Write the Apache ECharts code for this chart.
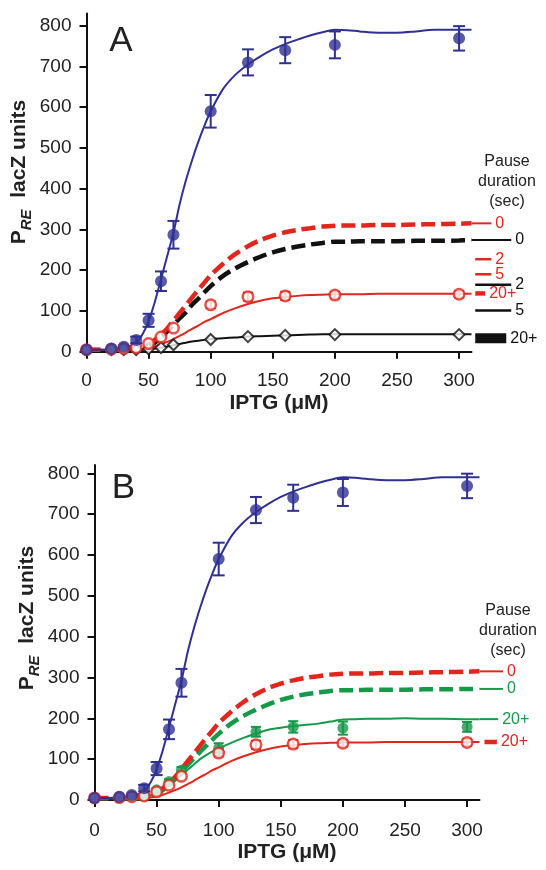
<!DOCTYPE html>
<html><head><meta charset="utf-8">
<script src="https://cdn.jsdelivr.net/npm/echarts@6/dist/echarts.min.js"></script>
<style>html,body{margin:0;padding:0;background:#fff}#c{width:546px;height:870px}</style>
</head><body><div id="c"></div>
<script>
// ---- tick labels ----
const xTicks = [0, 50, 100, 150, 200, 250, 300];
const yTicks = [0, 100, 200, 300, 400, 500, 600, 700, 800];

// ---- measured points (IPTG uM) ----
const ptX = [0, 20, 30, 40, 50, 60, 70, 100, 130, 160, 200, 300];
const wtY   = [5, 8, 12, 29, 77, 173, 287, 590, 710, 740, 753, 769];
const wtErr = [0, 0, 0, 8, 16, 24, 34, 40, 32, 32, 33, 30];
const redY   = [5, 6, 8, 10, 20, 36, 58, 115, 135, 137, 139, 141];
const redErr = [0, 0, 0, 0, 0, 0, 0, 8, 10, 10, 8, 8];
const blkY   = [4, 5, 5, 5, 7, 10, 17, 30, 37, 40, 42, 42];
const grnY   = [5, 6, 8, 14, 25, 45, 73, 127, 167, 179, 176, 179];
const grnErr = [0, 0, 0, 0, 4, 6, 8, 12, 12, 14, 16, 12];

// ---- fitted / model curves ----
const fitX = [0,10,20,30,35,40,45,50,55,60,65,70,75,80,85,90,95,100,110,120,130,140,150,160,170,180,190,200,210,220,235,250,265,280,300,310];
const wtFit   = [5,5,6,9,14,22,42,75,122,178,235,292,362,420,470,515,555,590,645,680,705,725,742,755,766,776,784,790,789,786,783,783,786,790,790,790];
const redDash = [5,5,5,6,7,8,12,18,29,42,57,76,95,114,133,152,170,188,216,240,259,274,285,293,299,303,307,309,310,310,311,311,312,313,314,315];
const blkDash = [4,4,4,4,4,5,7,12,22,35,50,66,82,97,115,130,146,161,186,205,220,233,244,252,258,263,267,270,270,271,271,271,272,272,273,274];
const grnDash = [4,4,4,4,4,5,8,14,24,38,54,70,86,102,118,133,148,162,187,206,221,234,245,253,259,263,267,269,269,270,270,270,271,271,272,272];
const redFit  = [4,4,4,4,4,5,6,9,13,18,24,31,39,47,56,64,73,80,95,107,117,125,131,134,137,139,140,141,141,141,142,142,142,142,142,142];
const blkFit  = [3,3,3,3,3,4,5,6,8,10,13,16,19,22,25,27,29,31,33,35,37,38,39,40,41,42,43,43,43,43,43,43,43,43,43,43];
const grnFit  = [4,4,5,5,6,8,11,16,23,35,47,60,74,87,100,110,119,126,140,152,163,172,177,181,184,187,192,197,198,199,199,200,199,199,198,198];

// ---- pause-duration key (label, value level, x extent in IPTG units) ----
const keyA = [
  {t:'0',   c:'red', v:315, x0:310, x1:326, w:2},
  {t:'0',   c:'blk', v:274, x0:310, x1:342, w:2},
  {t:'2',   c:'red', v:227, x0:313, x1:326, w:2.5},
  {t:'5',   c:'red', v:190, x0:313, x1:326, w:2.5},
  {t:'2',   c:'blk', v:164, x0:313, x1:342, w:2.5},
  {t:'20+', c:'red', v:143, x0:313, x1:321, w:4.5},
  {t:'5',   c:'blk', v:101, x0:313, x1:342, w:2.5},
  {t:'20+', c:'blk', v:33,  x0:313, x1:338, w:10}
];
const keyB = [
  {t:'0',   c:'red', v:315, x0:310, x1:329, w:2},
  {t:'0',   c:'grn', v:272, x0:310, x1:329, w:2},
  {t:'20+', c:'grn', v:198, x0:310, x1:325, w:2},
  {t:'20+', c:'red', v:142, x0:314, x1:324, w:4.5}
];

const COL = {blue:'#2e3192', red:'#e2261c', blk:'#111111', grn:'#17994a'};
const FONT = '"Liberation Sans", Arial, sans-serif';
const TXT = '#222';

const zip = (xs, ys) => xs.map((x, i) => [x, ys[i]]);

function curve(ys, color, dashed, gi, z) {
  return {type:'line', xAxisIndex:gi, yAxisIndex:gi, data:zip(fitX, ys), smooth:0.3,
    symbol:'none', silent:true, z:z || 2,
    lineStyle:{color, width: dashed ? 4.5 : 2, type: dashed ? [14, 6] : 'solid', cap:'butt'}};
}
function points(ys, gi, opt) {
  return {type:'scatter', xAxisIndex:gi, yAxisIndex:gi, data:zip(ptX, ys), silent:true,
    symbol:opt.symbol || 'circle', symbolSize:opt.size, z:opt.z,
    itemStyle:{color:opt.fill, borderColor:opt.stroke, borderWidth:opt.bw || 0}};
}
function errBars(ys, errs, color, cap, gi, z) {
  const data = [];
  ptX.forEach((x, i) => { if (errs[i] > 0) data.push([x, ys[i] - errs[i], ys[i] + errs[i]]); });
  return {type:'custom', xAxisIndex:gi, yAxisIndex:gi, silent:true, z, data,
    encode:{x:0, y:[1, 2]},
    renderItem(params, api) {
      const x = api.value(0);
      const a = api.coord([x, api.value(1)]), b = api.coord([x, api.value(2)]);
      const st = {stroke:color, lineWidth:2};
      return {type:'group', children:[
        {type:'line', shape:{x1:a[0], y1:a[1], x2:b[0], y2:b[1]}, style:st},
        {type:'line', shape:{x1:a[0]-cap, y1:a[1], x2:a[0]+cap, y2:a[1]}, style:st},
        {type:'line', shape:{x1:b[0]-cap, y1:b[1], x2:b[0]+cap, y2:b[1]}, style:st}
      ]};
    }};
}

function xAx(gi, margin, gap) {
  return {type:'value', gridIndex:gi, min:0, max:310,
    axisLine:{onZero:false, lineStyle:{color:'#111', width:2}},
    axisTick:{customValues:xTicks, length:7, lineStyle:{color:'#111', width:2}},
    axisLabel:{customValues:xTicks, fontSize:19, color:TXT, margin, fontFamily:FONT},
    splitLine:{show:false},
    name:'IPTG (\u03bcM)', nameLocation:'middle', nameGap:gap,
    nameTextStyle:{fontSize:21, fontWeight:'bold', color:TXT, fontFamily:FONT}};
}
function yAx(gi, max) {
  return {type:'value', gridIndex:gi, min:0, max,
    axisLine:{show:true, onZero:false, lineStyle:{color:'#111', width:2}},
    axisTick:{show:true, customValues:yTicks, length:7, lineStyle:{color:'#111', width:2}},
    axisLabel:{customValues:yTicks, fontSize:19, color:TXT, margin:15, fontFamily:FONT},
    splitLine:{show:false}};
}

function yName(x, y) {
  return {type:'text', x, y, rotation:Math.PI/2, silent:true,
    style:{text:'{p|P}{s|RE}{n|  lacZ units}', align:'center', verticalAlign:'middle',
      rich:{
        p:{fontSize:21, fontWeight:'bold', fontFamily:FONT, fill:TXT, lineHeight:30, verticalAlign:'middle'},
        s:{fontSize:15, fontWeight:'bold', fontStyle:'italic', fontFamily:FONT, fill:TXT, lineHeight:15, verticalAlign:'bottom'},
        n:{fontSize:21, fontWeight:'bold', fontFamily:FONT, fill:TXT, lineHeight:30, verticalAlign:'middle'}
      }}};
}
function txt(x, y, s, size, extra) {
  return Object.assign({type:'text', x, y, silent:true,
    style:Object.assign({text:s, fontSize:size, fontFamily:FONT, fill:TXT, align:'center', verticalAlign:'middle'}, extra || {})});
}

const series = [
  // panel A
  curve(blkFit, COL.blk, false, 0, 2),
  curve(blkDash, COL.blk, true, 0, 2),
  curve(redDash, COL.red, true, 0, 2),
  curve(redFit, COL.red, false, 0, 2),
  curve(wtFit, COL.blue, false, 0, 2),
  errBars(redY, redErr, COL.red, 5, 0, 4),
  points(blkY, 0, {symbol:'diamond', size:11, fill:'#fff', stroke:COL.blk, bw:2, z:5}),
  points(redY, 0, {size:10.5, fill:'#fff', stroke:COL.red, bw:2.5, z:5}),
  errBars(wtY, wtErr, COL.blue, 6, 0, 6),
  points(wtY, 0, {size:12, fill:COL.blue, z:7}),
  // panel B
  curve(grnDash, COL.grn, true, 1, 2),
  curve(redDash, COL.red, true, 1, 2),
  curve(grnFit, COL.grn, false, 1, 2),
  curve(redFit, COL.red, false, 1, 2),
  curve(wtFit, COL.blue, false, 1, 2),
  errBars(grnY, grnErr, COL.grn, 5, 1, 4),
  points(grnY, 1, {size:11, fill:COL.grn, z:5}),
  errBars(redY, redErr, COL.red, 5, 1, 5),
  points(redY, 1, {size:10.5, fill:'#fff', stroke:COL.red, bw:2.5, z:6}),
  errBars(wtY, wtErr, COL.blue, 6, 1, 6),
  points(wtY, 1, {size:12, fill:COL.blue, z:7})
];

const baseGraphic = [
  yName(19, 172),
  yName(27, 618),
  txt(121, 41, 'A', 35),
  txt(123.5, 488, 'B', 35),
  txt(507, 182, 'Pause\nduration\n(sec)', 16, {lineHeight:20}),
  txt(508, 631, 'Pause\nduration\n(sec)', 16, {lineHeight:20})
];

const chart = echarts.init(document.getElementById('c'), null, {renderer:'canvas'});
chart.setOption({
  animation:false,
  backgroundColor:'#fff',
  grid:[
    {left:86.5, top:13.5, width:385, height:338.2},
    {left:94.5, top:465.1, width:385, height:334.9}
  ],
  xAxis:[xAx(0, 20, 41), xAx(1, 21, 42)],
  yAxis:[yAx(0, 830), yAx(1, 820)],
  series,
  graphic:baseGraphic
});

// key marks placed through the axes' scales
function keyGraphic(keys, gi) {
  const out = [];
  keys.forEach(k => {
    const p0 = chart.convertToPixel({gridIndex:gi}, [k.x0, k.v]);
    const p1 = chart.convertToPixel({gridIndex:gi}, [k.x1, k.v]);
    out.push({type:'line', silent:true, z:10,
      shape:{x1:p0[0], y1:p0[1], x2:p1[0], y2:p1[1]},
      style:{stroke:COL[k.c], lineWidth:k.w, lineCap:'butt'}});
    out.push({type:'text', silent:true, z:10, x:p1[0] + 4, y:p1[1],
      style:{text:k.t, fontSize:16, fontFamily:FONT, fill:COL[k.c], align:'left', verticalAlign:'middle'}});
  });
  return out;
}
chart.setOption({graphic: baseGraphic.concat(keyGraphic(keyA, 0), keyGraphic(keyB, 1))});
</script></body></html>
